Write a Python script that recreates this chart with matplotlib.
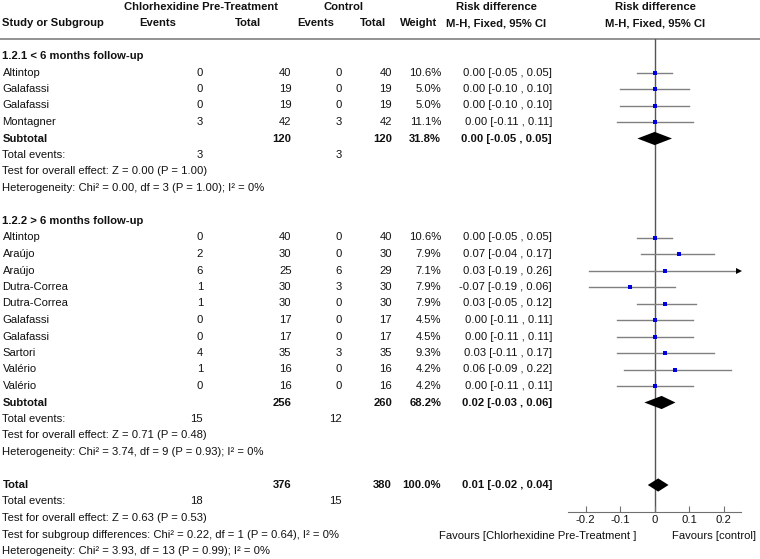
import matplotlib
matplotlib.use('Agg')
import matplotlib.pyplot as plt

plt.rcParams['font.family'] = ['Liberation Sans', 'DejaVu Sans']
plt.rcParams['font.size'] = 8.1

# ---- data ----
group_titles = ['1.2.1 < 6 months follow-up', '1.2.2 > 6 months follow-up']

studies_1 = ['Altintop', 'Galafassi', 'Galafassi', 'Montagner']
ev_t_1 = [0, 0, 0, 3]
n_t_1 = [40, 19, 19, 42]
ev_c_1 = [0, 0, 0, 3]
n_c_1 = [40, 19, 19, 42]
weight_1 = [10.6, 5.0, 5.0, 11.1]
rd_1 = [0.00, 0.00, 0.00, 0.00]
lo_1 = [-0.05, -0.10, -0.10, -0.11]
hi_1 = [0.05, 0.10, 0.10, 0.11]

studies_2 = ['Altintop', 'Araújo', 'Araújo', 'Dutra-Correa', 'Dutra-Correa',
             'Galafassi', 'Galafassi', 'Sartori', 'Valério', 'Valério']
ev_t_2 = [0, 2, 6, 1, 1, 0, 0, 4, 1, 0]
n_t_2 = [40, 30, 25, 30, 30, 17, 17, 35, 16, 16]
ev_c_2 = [0, 0, 6, 3, 0, 0, 0, 3, 0, 0]
n_c_2 = [40, 30, 29, 30, 30, 17, 17, 35, 16, 16]
weight_2 = [10.6, 7.9, 7.1, 7.9, 7.9, 4.5, 4.5, 9.3, 4.2, 4.2]
rd_2 = [0.00, 0.07, 0.03, -0.07, 0.03, 0.00, 0.00, 0.03, 0.06, 0.00]
lo_2 = [-0.05, -0.04, -0.19, -0.19, -0.05, -0.11, -0.11, -0.11, -0.09, -0.11]
hi_2 = [0.05, 0.17, 0.26, 0.06, 0.12, 0.11, 0.11, 0.17, 0.22, 0.11]

sub_ev_t = [3, 15]
sub_ev_c = [3, 12]
sub_n_t = [120, 256]
sub_n_c = [120, 260]
sub_weight = [31.8, 68.2]
sub_rd = [0.00, 0.02]
sub_lo = [-0.05, -0.03]
sub_hi = [0.05, 0.06]
sub_test = ['Test for overall effect: Z = 0.00 (P = 1.00)',
            'Test for overall effect: Z = 0.71 (P = 0.48)']
sub_het = ['Heterogeneity: Chi² = 0.00, df = 3 (P = 1.00); I² = 0%',
           'Heterogeneity: Chi² = 3.74, df = 9 (P = 0.93); I² = 0%']

tot_ev_t, tot_ev_c = 18, 15
tot_n_t, tot_n_c = 376, 380
tot_weight = 100.0
tot_rd, tot_lo, tot_hi = 0.01, -0.02, 0.04
tot_notes = ['Test for overall effect: Z = 0.63 (P = 0.53)',
             'Test for subgroup differences: Chi² = 0.22, df = 1 (P = 0.64), I² = 0%',
             'Heterogeneity: Chi² = 3.93, df = 13 (P = 0.99); I² = 0%']

xticks = [-0.2, -0.1, 0, 0.1, 0.2]
xticklabels = ['-0.2', '-0.1', '0', '0.1', '0.2']

groups = [
    (studies_1, ev_t_1, n_t_1, ev_c_1, n_c_1, weight_1, rd_1, lo_1, hi_1),
    (studies_2, ev_t_2, n_t_2, ev_c_2, n_c_2, weight_2, rd_2, lo_2, hi_2),
]

# ---- layout (pixels) ----
W, H = 760, 559
ROW0, ROWH = 56, 16.5
X_NAME, X_EVT, X_NT, X_EVC, X_NC, X_W, X_CI = 2.5, 203, 291.5, 342, 392, 441, 552
AX_L, AX_R, AX_TOP, AX_BOT = 568.2, 741.2, 39.3, 511.7
TXT = '#111111'
GREY = '#808080'


def ypx(i):
    return ROW0 + ROWH * i


def ci_text(rd, lo, hi):
    return f'{rd:.2f} [{lo:.2f} , {hi:.2f}]'


fig = plt.figure(figsize=(W / 100, H / 100), dpi=100)
bg = fig.add_axes([0, 0, 1, 1])
bg.set_xlim(0, W)
bg.set_ylim(H, 0)
bg.axis('off')

fa = fig.add_axes([AX_L / W, (H - AX_BOT) / H, (AX_R - AX_L) / W, (AX_BOT - AX_TOP) / H])
fa.set_xlim(-0.25, 0.25)
fa.set_ylim((AX_BOT - ROW0) / ROWH, (AX_TOP - ROW0) / ROWH)
fa.patch.set_alpha(0)
for s in ('top', 'left', 'right'):
    fa.spines[s].set_visible(False)
fa.spines['bottom'].set_color('#707070')
fa.set_yticks([])
fa.set_xticks(xticks)
fa.set_xticklabels(xticklabels)
fa.tick_params(axis='x', direction='in', length=4, color='#707070', pad=2.5,
               labelsize=8.1, labelcolor=TXT)
fa.axvline(0, color='#555555', lw=1, zorder=1)


def t(x, i, s, ha='left', bold=False):
    bg.text(x, ypx(i), s, ha=ha, va='center', color=TXT,
            fontweight='bold' if bold else 'normal')


def diamond(i, rd, lo, hi):
    h = 0.4
    fa.fill([lo, rd, hi, rd], [i, i - h, i, i + h], color='black', lw=0, zorder=3)


# headers
bg.text(200.8, 6.7, 'Chlorhexidine Pre-Treatment', ha='center', va='center', fontweight='bold', color=TXT)
bg.text(343, 6.7, 'Control', ha='center', va='center', fontweight='bold', color=TXT)
bg.text(496, 6.7, 'Risk difference', ha='center', va='center', fontweight='bold', color=TXT)
bg.text(655, 6.7, 'Risk difference', ha='center', va='center', fontweight='bold', color=TXT)
bg.text(X_NAME, 23.3, 'Study or Subgroup', ha='left', va='center', fontweight='bold', color=TXT)
bg.text(158, 23.3, 'Events', ha='center', va='center', fontweight='bold', color=TXT)
bg.text(261, 23.3, 'Total', ha='right', va='center', fontweight='bold', color=TXT)
bg.text(316, 23.3, 'Events', ha='center', va='center', fontweight='bold', color=TXT)
bg.text(386, 23.3, 'Total', ha='right', va='center', fontweight='bold', color=TXT)
bg.text(419, 23.3, 'Weight', ha='center', va='center', fontweight='bold', color=TXT)
bg.text(496, 23.3, 'M-H, Fixed, 95% CI', ha='center', va='center', fontweight='bold', color=TXT)
bg.text(655, 23.3, 'M-H, Fixed, 95% CI', ha='center', va='center', fontweight='bold', color=TXT)
bg.axhline(AX_TOP, color='#8a8a8a', lw=1.3)

row = 0
for g, (names, evt, nt, evc, nc, wt, rd, lo, hi) in enumerate(groups):
    t(X_NAME, row, group_titles[g], bold=True)
    row += 1
    for k in range(len(names)):
        t(X_NAME, row, names[k])
        t(X_EVT, row, str(evt[k]), 'right')
        t(X_NT, row, str(nt[k]), 'right')
        t(X_EVC, row, str(evc[k]), 'right')
        t(X_NC, row, str(nc[k]), 'right')
        t(X_W, row, f'{wt[k]:.1f}%', 'right')
        t(X_CI, row, ci_text(rd[k], lo[k], hi[k]), 'right')
        if hi[k] > 0.25:
            fa.plot([lo[k], 0.243], [row, row], color=GREY, lw=1, zorder=2)
            fa.plot([0.243], [row], marker='>', color='black', ms=4, mew=0,
                    clip_on=False, zorder=3)
        else:
            fa.plot([lo[k], hi[k]], [row, row], color=GREY, lw=1, zorder=2)
        fa.plot([rd[k]], [row], marker='s', color='#0000dd', mew=0,
                ms=1.9 + 0.1 * wt[k], zorder=4)
        row += 1
    t(X_NAME, row, 'Subtotal', bold=True)
    t(X_NT, row, str(sub_n_t[g]), 'right', True)
    t(X_NC, row, str(sub_n_c[g]), 'right', True)
    t(X_W, row, f'{sub_weight[g]:.1f}%', 'right', True)
    t(X_CI, row, ci_text(sub_rd[g], sub_lo[g], sub_hi[g]), 'right', True)
    diamond(row, sub_rd[g], sub_lo[g], sub_hi[g])
    row += 1
    t(X_NAME, row, 'Total events:')
    t(X_EVT, row, str(sub_ev_t[g]), 'right')
    t(X_EVC, row, str(sub_ev_c[g]), 'right')
    row += 1
    t(X_NAME, row, sub_test[g])
    row += 1
    t(X_NAME, row, sub_het[g])
    row += 2

t(X_NAME, row, 'Total', bold=True)
t(X_NT, row, str(tot_n_t), 'right', True)
t(X_NC, row, str(tot_n_c), 'right', True)
t(X_W, row, f'{tot_weight:.1f}%', 'right', True)
t(X_CI, row, ci_text(tot_rd, tot_lo, tot_hi), 'right', True)
diamond(row, tot_rd, tot_lo, tot_hi)
row += 1
t(X_NAME, row, 'Total events:')
t(X_EVT, row, str(tot_ev_t), 'right')
t(X_EVC, row, str(tot_ev_c), 'right')
for note in tot_notes:
    row += 1
    t(X_NAME, row, note)

bg.text(537.5, 536, 'Favours [Chlorhexidine Pre-Treatment ]', ha='center', va='center', color=TXT)
bg.text(714, 536, 'Favours [control]', ha='center', va='center', color=TXT)

fig.savefig('out.png', dpi=100)
